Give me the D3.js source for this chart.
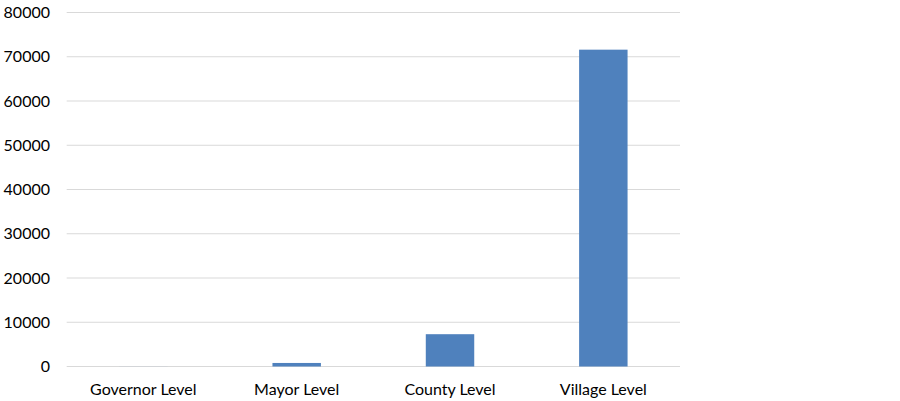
<!DOCTYPE html>
<html><head><meta charset="utf-8">
<script src="https://cdn.jsdelivr.net/npm/d3@7"></script>
<style>body{margin:0;background:#fff;}svg{display:block;}</style>
</head><body>
<svg id="c" width="900" height="401"></svg>
<script>
const categories = ["Governor Level", "Mayor Level", "County Level", "Village Level"];
const values = [10, 800, 7300, 71600];
const yTicks = [0, 10000, 20000, 30000, 40000, 50000, 60000, 70000, 80000];

(function () {
const svg = d3.select("#c");
const mLeft = 66.7, mRight = 680, mTop = 12.5, mBottom = 366.5;
const x = d3.scaleBand().domain(categories).range([mLeft, mRight]).paddingInner(0.684).paddingOuter(0.342);
const y = d3.scaleLinear().domain([0, 80000]).range([mBottom, mTop]);
const font = "Lato, 'Open Sans', sans-serif";

svg.append("g").selectAll("line").data(yTicks).join("line")
  .attr("x1", mLeft).attr("x2", mRight)
  .attr("y1", d => y(d)).attr("y2", d => y(d))
  .attr("stroke", "#d9d9d9").attr("stroke-width", 1);

svg.append("g").selectAll("text").data(yTicks).join("text")
  .attr("x", 50).attr("y", d => y(d)).attr("dy", "0.35em")
  .attr("text-anchor", "end").attr("font-family", font).attr("font-size", 16)
  .attr("fill", "#000").text(d => d);

svg.append("g").selectAll("rect").data(values).join("rect")
  .attr("x", (d, i) => x(categories[i])).attr("width", x.bandwidth())
  .attr("y", d => y(d)).attr("height", d => y(0) - y(d))
  .attr("fill", "#4f81bd");

svg.append("g").selectAll("text").data(categories).join("text")
  .attr("x", d => x(d) + x.bandwidth() / 2).attr("y", 395)
  .attr("text-anchor", "middle").attr("font-family", font).attr("font-size", 16)
  .attr("fill", "#000").text(d => d);
})();
</script>
</body></html>
